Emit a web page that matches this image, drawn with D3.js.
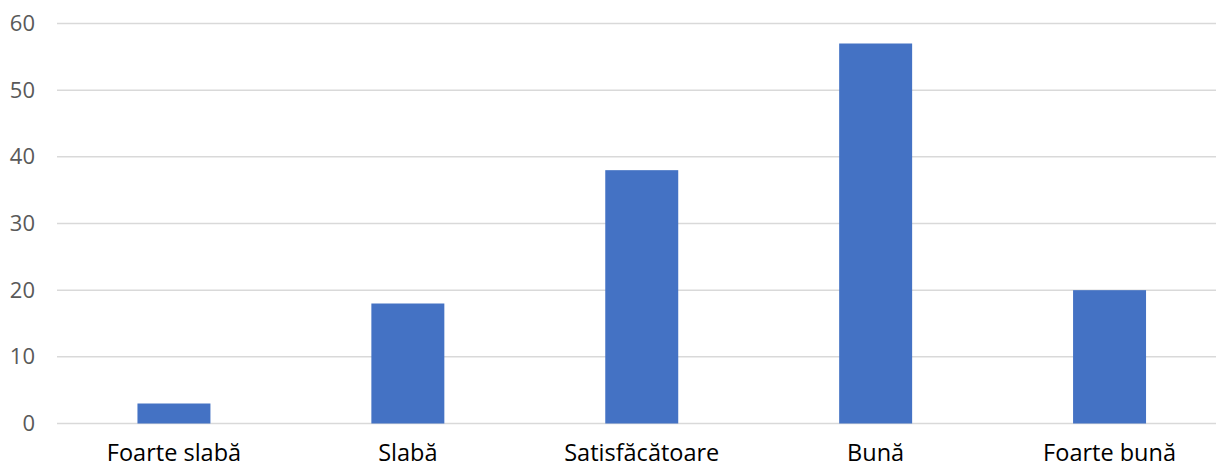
<!DOCTYPE html>
<html>
<head>
<meta charset="utf-8">
<script src="https://cdn.jsdelivr.net/npm/d3@7"></script>
<style>
  html, body { margin: 0; padding: 0; background: #fff; }
  svg { display: block; }
</style>
</head>
<body>
<svg id="chart" width="1216" height="463"></svg>
<script>
const categories = ["Foarte slabă", "Slabă", "Satisfăcătoare", "Bună", "Foarte bună"];
const values = [3, 18, 38, 57, 20];
const yTicks = [0, 10, 20, 30, 40, 50, 60];

(function () {
const svg = d3.select("#chart");
const W = 1216, H = 463;
const mLeft = 57, mRight = 1226.5, mTop = 23.5, mBottom = 423.5;
const font = "'Open Sans', sans-serif";

const x = d3.scaleBand().domain(categories).range([mLeft, mRight]).paddingInner(0.688).paddingOuter(0.344);
const y = d3.scaleLinear().domain([0, 60]).range([mBottom, mTop]);

// gridlines
svg.append("g").selectAll("line").data(yTicks).join("line")
  .attr("x1", mLeft).attr("x2", W)
  .attr("y1", d => y(d)).attr("y2", d => y(d))
  .attr("stroke", "#d9d9d9").attr("stroke-width", 1.5);

// y axis labels
const yAxis = d3.axisLeft(y).tickValues(yTicks).tickSize(0).tickPadding(0);
const gy = svg.append("g").attr("transform", "translate(35,0)").call(yAxis);
gy.select(".domain").remove();
gy.selectAll("text").attr("fill", "#595959").style("font-family", font).style("font-size", "22px");

// bars
svg.append("g").selectAll("rect").data(values).join("rect")
  .attr("x", (d, i) => x(categories[i]))
  .attr("width", x.bandwidth())
  .attr("y", d => y(d))
  .attr("height", d => y(0) - y(d))
  .attr("fill", "#4472c4");

// x axis labels
const xAxis = d3.axisBottom(x).tickSize(0).tickPadding(0);
const gx = svg.append("g").attr("transform", `translate(0,${mBottom + 21})`).call(xAxis);
gx.select(".domain").remove();
gx.selectAll("text").attr("fill", "#000").style("font-family", font).style("font-size", "23.5px");
})();
</script>
</body>
</html>
